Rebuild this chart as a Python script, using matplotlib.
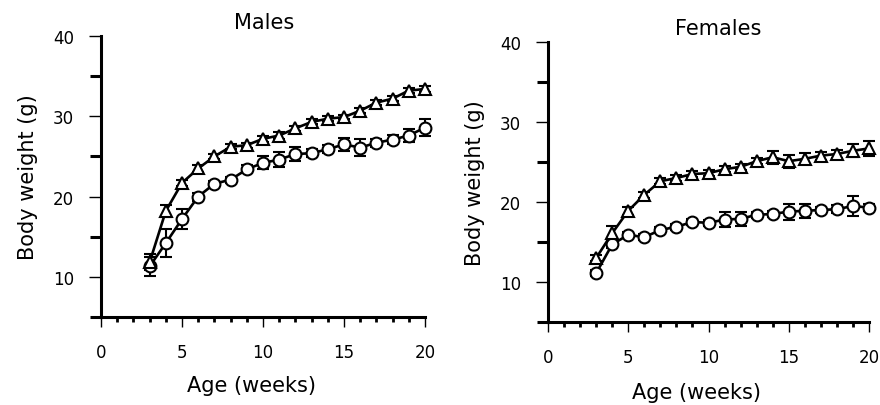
import matplotlib
matplotlib.use('Agg')
import matplotlib.pyplot as plt
from matplotlib.ticker import MultipleLocator, FixedLocator

weeks = list(range(3, 21))

# Males
male_tri = [11.8, 18.2, 21.7, 23.5, 25.0, 26.2, 26.4, 27.2, 27.6, 28.5, 29.3, 29.7, 29.9, 30.7, 31.7, 32.2, 33.2, 33.4]
male_tri_err = [1.0, 0.8, 0.4, 0.4, 0.3, 0.3, 0.3, 0.4, 0.4, 0.3, 0.3, 0.3, 0.3, 0.3, 0.3, 0.3, 0.3, 0.4]
male_circ = [11.3, 14.2, 17.2, 20.0, 21.6, 22.1, 23.4, 24.2, 24.6, 25.3, 25.4, 25.9, 26.5, 26.1, 26.7, 27.1, 27.6, 28.6]
male_circ_err = [1.2, 1.7, 1.3, 0.5, 0.4, 0.4, 0.5, 0.8, 0.9, 0.85, 0.5, 0.5, 0.85, 1.05, 0.5, 0.6, 0.8, 1.1]

# Females
fem_tri = [13.0, 16.1, 18.9, 20.9, 22.6, 23.0, 23.5, 23.6, 24.1, 24.4, 25.1, 25.6, 25.1, 25.4, 25.8, 26.0, 26.4, 26.7]
fem_tri_err = [0.4, 0.9, 0.5, 0.4, 0.4, 0.4, 0.4, 0.4, 0.4, 0.4, 0.4, 0.8, 0.8, 0.7, 0.5, 0.5, 0.8, 0.9]
fem_circ = [11.1, 14.7, 15.9, 15.6, 16.5, 16.9, 17.5, 17.4, 17.8, 17.9, 18.4, 18.5, 18.8, 18.9, 19.0, 19.1, 19.5, 19.3]
fem_circ_err = [0.4, 0.4, 0.4, 0.4, 0.4, 0.4, 0.4, 0.4, 0.9, 0.9, 0.4, 0.4, 1.0, 0.9, 0.4, 0.5, 1.3, 0.4]

fig = plt.figure(figsize=(8.8, 4.06), dpi=100)
ax_m = fig.add_axes([101 / 880, 88 / 406, 324 / 880, 281 / 406])
ax_f = fig.add_axes([548 / 880, 83 / 406, 321 / 880, 280 / 406])


def draw_panel(ax, title, title_x, xlab_xy, tri, tri_err, circ, circ_err):
    common = dict(color='black', lw=1.9, elinewidth=1.5, capsize=4.5, capthick=1.5,
                  markerfacecolor='white', markeredgecolor='black', markeredgewidth=1.5,
                  clip_on=False, zorder=3)
    ax.errorbar(weeks, circ, yerr=circ_err, marker='o', markersize=8.5, **common)
    ax.errorbar(weeks, tri, yerr=tri_err, marker='^', markersize=9, **common)

    ax.set_xlim(0, 20)
    ax.set_ylim(5, 40)
    for s in ['top', 'right']:
        ax.spines[s].set_visible(False)
    for s in ['left', 'bottom']:
        ax.spines[s].set_linewidth(2.2)

    ax.xaxis.set_major_locator(MultipleLocator(5))
    ax.xaxis.set_minor_locator(MultipleLocator(1))
    ax.yaxis.set_major_locator(FixedLocator([10, 20, 30, 40]))
    ax.yaxis.set_minor_locator(FixedLocator([5, 15, 25, 35]))
    ax.tick_params(axis='x', which='major', direction='out', length=7.5, width=1.0,
                   labelsize=12, pad=11)
    ax.tick_params(axis='x', which='minor', direction='out', length=3.8, width=2.0)
    ax.tick_params(axis='y', which='major', direction='out', length=8.5, width=1.0,
                   labelsize=12, pad=11)
    ax.tick_params(axis='y', which='minor', direction='out', length=8, width=2.2)

    ax.set_title(title, fontsize=15, x=title_x, pad=6)
    ax.set_xlabel('Age (weeks)', fontsize=15)
    ax.xaxis.set_label_coords(*xlab_xy)
    ax.set_ylabel('Body weight (g)', fontsize=15, labelpad=11)


draw_panel(ax_m, 'Males', 0.505, (0.463, -0.205), male_tri, male_tri_err, male_circ, male_circ_err)
draw_panel(ax_f, 'Females', 0.53, (0.462, -0.215), fem_tri, fem_tri_err, fem_circ, fem_circ_err)

fig.savefig('out.png', dpi=100)
